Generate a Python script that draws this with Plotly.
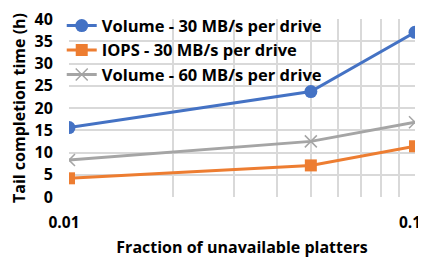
import plotly.graph_objects as go

x_vals = [0.01, 0.05, 0.1]
vol30 = [15.6, 23.7, 37.0]
iops30 = [4.2, 7.1, 11.4]
vol60 = [8.3, 12.5, 16.8]

x_ticks = [0.01, 0.02, 0.03, 0.04, 0.05, 0.06, 0.07, 0.08, 0.09, 0.1]
x_ticktext = ["0.01", "", "", "", "", "", "", "", "", "0.1"]
y_ticks = [0, 5, 10, 15, 20, 25, 30, 35, 40]

FONT = "Open Sans"
grid = "#d9d9d9"

fig = go.Figure()
fig.add_trace(go.Scatter(x=x_vals, y=vol30, mode="lines+markers", name="Volume - 30 MB/s per drive",
                         line=dict(color="#4472C4", width=3),
                         marker=dict(symbol="circle", size=13, color="#4472C4")))
fig.add_trace(go.Scatter(x=x_vals, y=iops30, mode="lines+markers", name="IOPS - 30 MB/s per drive",
                         line=dict(color="#ED7D31", width=3),
                         marker=dict(symbol="square", size=12, color="#ED7D31")))
fig.add_trace(go.Scatter(x=x_vals, y=vol60, mode="lines+markers", name="Volume - 60 MB/s per drive",
                         line=dict(color="#A5A5A5", width=3),
                         marker=dict(symbol="x-thin-open", size=12, color="#A5A5A5",
                                     line=dict(color="#A5A5A5", width=1.5))))

# page body has an 8px default margin, so the figure is sized/offset to compensate
fig.update_layout(
    width=418, height=250,
    margin=dict(l=61, r=11, t=11, b=61, autoexpand=False),
    paper_bgcolor="white", plot_bgcolor="white",
    font=dict(family=FONT, size=15, color="black"),
    showlegend=True,
    legend=dict(x=-0.021, y=1.06, xanchor="left", yanchor="top", bgcolor="rgba(0,0,0,0)",
                font=dict(family=FONT, size=16.5, color="black", weight="bold"),
                tracegroupgap=0, itemwidth=30),
    xaxis=dict(type="log", range=[-2, -1], tickmode="array", tickvals=x_ticks, ticktext=x_ticktext,
               showgrid=True, gridcolor=grid, gridwidth=1.5, zeroline=False, automargin=False,
               ticklabeloverflow="allow", ticklabelshift=-5,
               showline=False, ticks="outside", ticklen=11, tickcolor="rgba(0,0,0,0)",
               tickfont=dict(family=FONT, size=15.5, weight="bold"),
               title=dict(text="Fraction of unavailable platters", standoff=27,
                          font=dict(family=FONT, size=16, weight="bold"))),
    yaxis=dict(range=[0, 40], tickmode="array", tickvals=y_ticks,
               showgrid=True, gridcolor=grid, gridwidth=1.5, zeroline=False, automargin=False,
               ticklabeloverflow="allow",
               showline=False, ticks="outside", ticklen=12, tickcolor="rgba(0,0,0,0)",
               tickfont=dict(family=FONT, size=16, weight="bold"),
               title=dict(text="Tail completion time (h)", standoff=4,
                          font=dict(family=FONT, size=16, weight="bold"))),
)

fig.write_html("out.html")
